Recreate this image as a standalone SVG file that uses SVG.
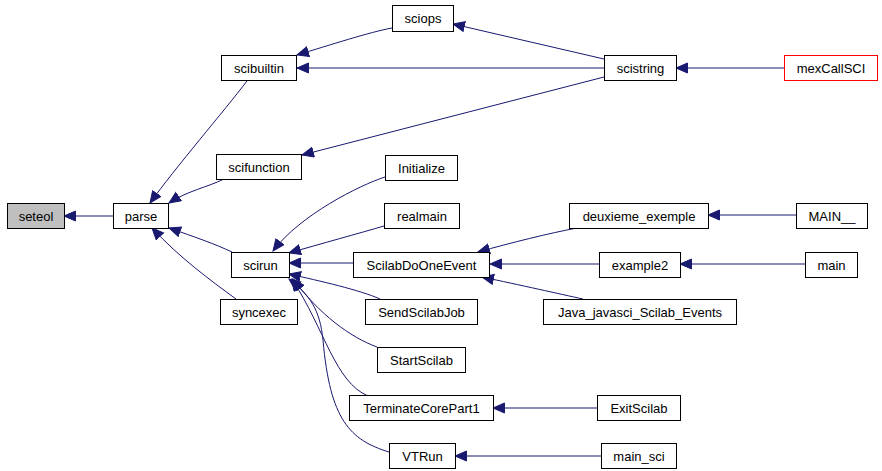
<svg xmlns="http://www.w3.org/2000/svg" width="882" height="471" viewBox="0 0 882 471">
<style>
.n rect{fill:#fff;stroke:#000;stroke-width:1}
.n text{font-family:"Liberation Sans",Arial,sans-serif;font-size:13px;fill:#000;text-anchor:middle}
.e path{fill:none;stroke:#191970;stroke-width:1;marker-end:url(#ah)}
</style>
<defs>
<marker id="ah" markerUnits="userSpaceOnUse" markerWidth="14" markerHeight="12" refX="12" refY="5.5" orient="auto" viewBox="0 0 14 12">
<path d="M0.5,0.5 L12,5.5 L0.5,10.5 z" fill="#191970" stroke="#191970" stroke-width="1"/>
</marker>
</defs>
<rect width="882" height="471" fill="#fff"/>
<g id="edges" class="e">
<path d="M113,216 L64,216"/>
<path d="M247,81 C225,110 175,168 150,203"/>
<path d="M224,179 C208,187 187,191 169,203"/>
<path d="M232,252 C215,244 195,237 169,228"/>
<path d="M236,299 C210,280 180,258 152,228"/>
<path d="M392,28 C370,32 330,45 297,55"/>
<path d="M604,68 L297,68"/>
<path d="M604,59 L453,24"/>
<path d="M604,77 L302,155"/>
<path d="M784,68 L676,68"/>
<path d="M385,177 C360,185 300,215 273,251"/>
<path d="M384,226 C360,233 320,244 289,253"/>
<path d="M353,263 L289,263"/>
<path d="M380,299 C360,290 320,281 289,274"/>
<path d="M377,347 C350,337 320,315 293,279"/>
<path d="M368,396 C335,382 325,330 292,279"/>
<path d="M389,452 C350,440 330,420 323,340 C320,310 310,295 289,279"/>
<path d="M577,228 C550,233 510,243 478,252"/>
<path d="M599,264 L490,264"/>
<path d="M583,299 C560,294 520,285 482,277"/>
<path d="M796,215 L708,215"/>
<path d="M805,264 L680,264"/>
<path d="M597,408 L493,408"/>
<path d="M601,456 L455,456"/>
</g>
<g id="seteol" class="n"><rect x="7.5" y="203.5" width="57" height="25" style="fill:#bfbfbf"/><text x="36" y="220.5">seteol</text></g>
<g id="parse" class="n"><rect x="113.5" y="203.5" width="55" height="25"/><text x="141" y="220.5">parse</text></g>
<g id="scibuiltin" class="n"><rect x="221.5" y="55.5" width="75" height="25"/><text x="259" y="72.5">scibuiltin</text></g>
<g id="scifunction" class="n"><rect x="216.5" y="154.5" width="85" height="25"/><text x="259" y="171.5">scifunction</text></g>
<g id="sciops" class="n"><rect x="392.5" y="5.5" width="61" height="26"/><text x="423" y="23">sciops</text></g>
<g id="Initialize" class="n"><rect x="385.5" y="155.5" width="72" height="25"/><text x="421.5" y="172.5">Initialize</text></g>
<g id="scistring" class="n"><rect x="604.5" y="55.5" width="72" height="25"/><text x="640.5" y="72.5">scistring</text></g>
<g id="mexCallSCI" class="n"><rect x="784.5" y="55.5" width="93" height="25" style="stroke:#ff0000"/><text x="831" y="72.5">mexCallSCI</text></g>
<g id="realmain" class="n"><rect x="384.5" y="203.5" width="75" height="25"/><text x="422" y="220.5">realmain</text></g>
<g id="scirun" class="n"><rect x="231.5" y="252.5" width="58" height="25"/><text x="260.5" y="269.5">scirun</text></g>
<g id="ScilabDoOneEvent" class="n"><rect x="353.5" y="252.5" width="136" height="25"/><text x="421.5" y="269.5">ScilabDoOneEvent</text></g>
<g id="syncexec" class="n"><rect x="220.5" y="299.5" width="77" height="25"/><text x="259" y="316.5">syncexec</text></g>
<g id="SendScilabJob" class="n"><rect x="365.5" y="299.5" width="112" height="25"/><text x="421.5" y="316.5">SendScilabJob</text></g>
<g id="StartScilab" class="n"><rect x="377.5" y="347.5" width="88" height="25"/><text x="421.5" y="364.5">StartScilab</text></g>
<g id="TerminateCorePart1" class="n"><rect x="349.5" y="395.5" width="144" height="25"/><text x="421.5" y="412.5">TerminateCorePart1</text></g>
<g id="VTRun" class="n"><rect x="389.5" y="443.5" width="66" height="25"/><text x="422.5" y="460.5">VTRun</text></g>
<g id="deuxieme_exemple" class="n"><rect x="569.5" y="203.5" width="139" height="25"/><text x="639" y="220.5">deuxieme_exemple</text></g>
<g id="MAIN__" class="n"><rect x="796.5" y="203.5" width="71" height="25"/><text x="832" y="220.5">MAIN__</text></g>
<g id="example2" class="n"><rect x="599.5" y="252.5" width="81" height="25"/><text x="640" y="269.5">example2</text></g>
<g id="main" class="n"><rect x="805.5" y="252.5" width="52" height="25"/><text x="831.5" y="269.5">main</text></g>
<g id="Java_javasci_Scilab_Events" class="n"><rect x="543.5" y="299.5" width="193" height="25"/><text x="640" y="316.5">Java_javasci_Scilab_Events</text></g>
<g id="ExitScilab" class="n"><rect x="597.5" y="395.5" width="83" height="25"/><text x="639" y="412.5">ExitScilab</text></g>
<g id="main_sci" class="n"><rect x="601.5" y="443.5" width="75" height="25"/><text x="639" y="460.5">main_sci</text></g>
</svg>
